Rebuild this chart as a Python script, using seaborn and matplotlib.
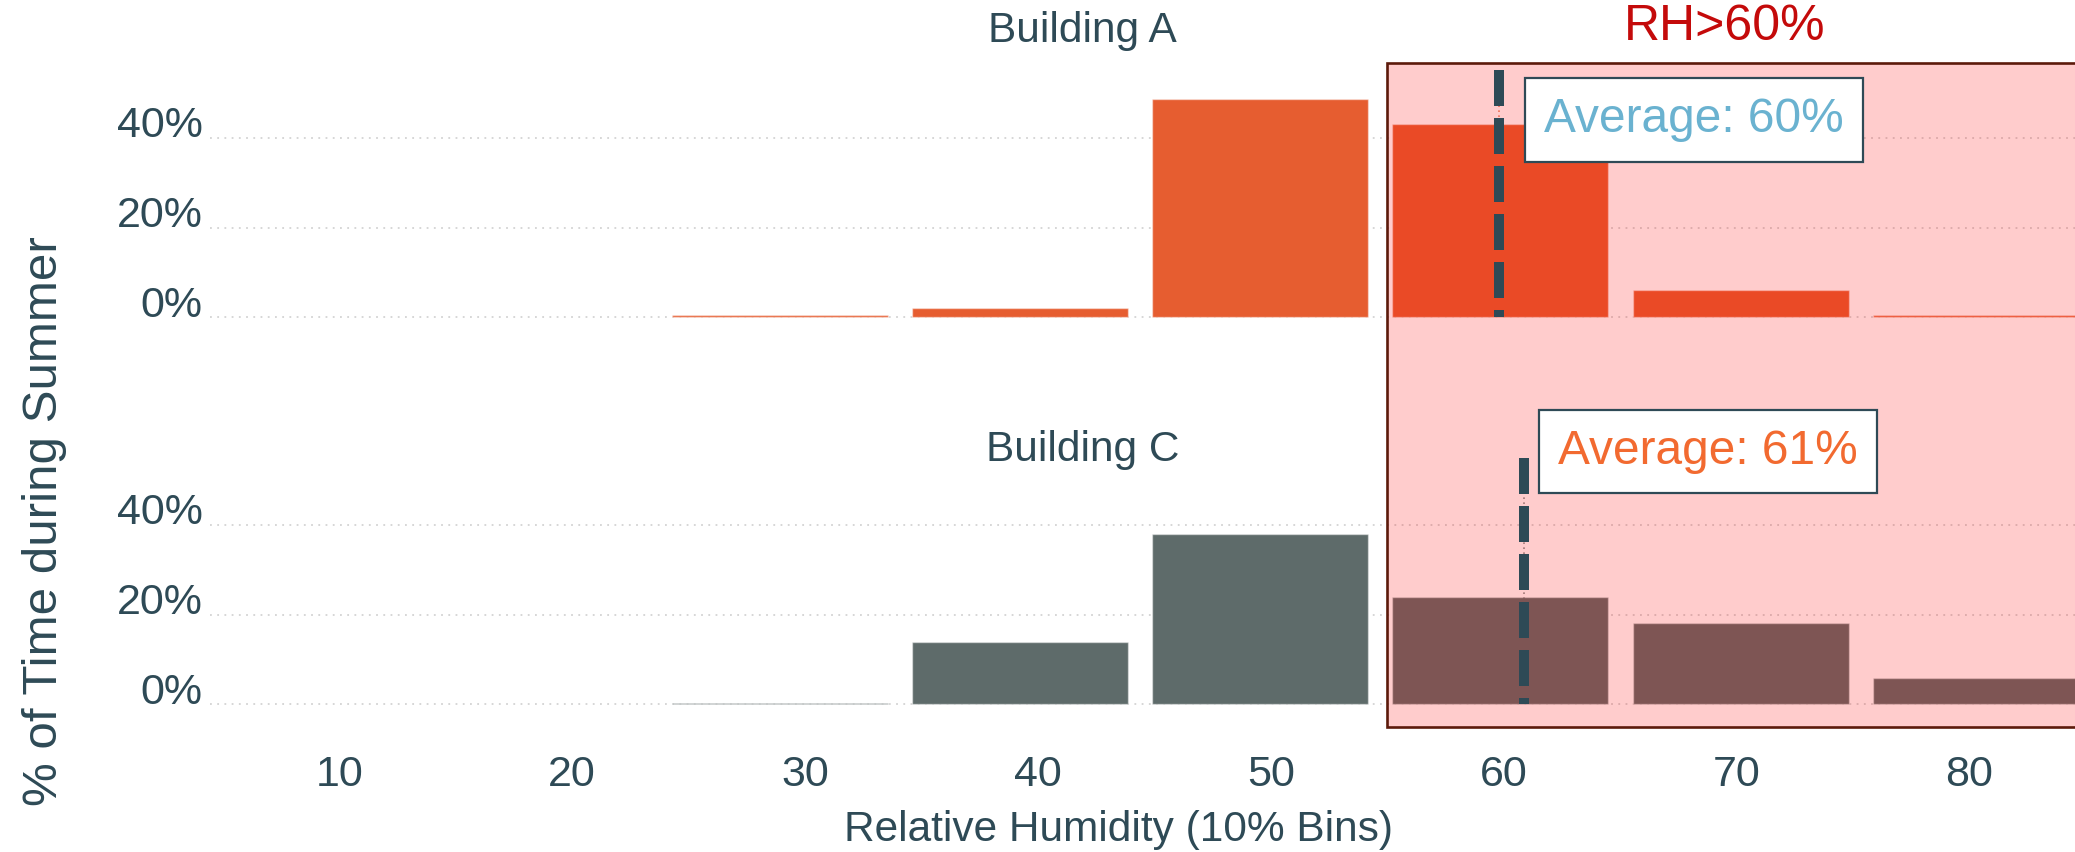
import numpy as np
import pandas as pd
import seaborn as sns
import matplotlib.pyplot as plt
from matplotlib.patches import Rectangle
from matplotlib.transforms import blended_transform_factory, ScaledTranslation
from matplotlib.ticker import FuncFormatter, FixedLocator

# ---- data -------------------------------------------------------------
buildings = ["Building A", "Building C"]
rh_bin_edges = [23.75, 34.07, 44.39, 54.71, 65.03, 75.35, 85.67]
rh_bin_centers = [28.91, 39.23, 49.55, 59.87, 70.19, 80.51]
pct_building_a = [0.45, 2.2, 48.7, 43.0, 6.0, 0.6]
pct_building_c = [0.4, 14.0, 37.9, 24.0, 18.1, 6.0]
avg_rh = [59.8, 60.9]
rh_zone_start = 55
x_ticks = [10, 20, 30, 40, 50, 60, 70, 80]
y_ticks = [0, 20, 40]

# ---- style ------------------------------------------------------------
sns.set_theme(style="white")
plt.rcParams["font.family"] = ["Liberation Sans", "DejaVu Sans"]

TEXT = "#2E4A56"
BAR_COLORS = ["#E65D30", "#5E6B6A"]
AVG_COLORS = ["#6AB2D0", "#F26A30"]
ZONE_TEXT = "#C40A0A"

W, H = 2075, 852
fig = plt.figure(figsize=(W / 100, H / 100), dpi=100)

x_left, x_right = 4.44, 84.55
y_low, y_high = -2.5, 56

ax_left = 210 / W
ax_width = 1.0 - ax_left
panel_boxes = [
    [ax_left, 1 - 328.6 / H, ax_width, (328.6 - 66) / H],
    [ax_left, 1 - 715.7 / H, ax_width, (715.7 - 453.1) / H],
]

# y tick labels sit just above their gridlines
lift = ScaledTranslation(0, 16 / 100, fig.dpi_scale_trans)

series = [pct_building_a, pct_building_c]
axes = []
for i, box in enumerate(panel_boxes):
    ax = fig.add_axes(box, zorder=0)
    sns.histplot(
        x=rh_bin_centers, weights=series[i], bins=rh_bin_edges, shrink=0.899,
        color=BAR_COLORS[i], alpha=1, edgecolor=(1, 1, 1, 0.45), linewidth=1.0,
        ax=ax,
    )
    # faint guide under the dashed average marker
    ax.plot([avg_rh[i], avg_rh[i]], [0, 55], color=BAR_COLORS[i], lw=1.2,
            ls=(0, (1, 2)), alpha=0.7, zorder=3)
    ax.set_xlim(x_left, x_right)
    ax.set_ylim(y_low, y_high)
    ax.set_xlabel("")
    ax.set_ylabel("")
    ax.yaxis.set_major_locator(FixedLocator(y_ticks))
    ax.yaxis.set_major_formatter(FuncFormatter(lambda v, p: f"{v:.0f}%"))
    ax.xaxis.set_major_locator(FixedLocator(x_ticks))
    ax.grid(False)
    ax.yaxis.grid(True, color="#D3D3D3", linestyle=(0, (1, 3)), linewidth=1.3)
    ax.set_axisbelow(True)
    for s in ax.spines.values():
        s.set_visible(False)
    ax.tick_params(axis="y", length=0, pad=5.4, labelsize=31, labelcolor=TEXT)
    ax.tick_params(axis="x", length=0, pad=28.5, labelsize=31, labelcolor=TEXT)
    if i == 0:
        ax.tick_params(axis="x", labelbottom=False)
    for lab in ax.get_yticklabels():
        lab.set_transform(lab.get_transform() + lift)
    ax.patch.set_alpha(0)
    axes.append(ax)

# red zone spanning both panels, tinting the bars underneath
zone_tf = blended_transform_factory(axes[1].transData, fig.transFigure)
zone = Rectangle((rh_zone_start, 1 - 727 / H), 40, (727 - 63) / H,
                 transform=zone_tf, facecolor=(1, 0, 0, 0.2),
                 edgecolor="#5C1A0B", linewidth=1.9, zorder=1)
fig.add_artist(zone)

# average markers and labels drawn above the zone
label_pos = [(68.2, 44.0), (68.8, 56.4)]
for i, box in enumerate(panel_boxes):
    ov = fig.add_axes(box, zorder=2, sharex=axes[i], sharey=axes[i])
    ov.set_axis_off()
    ov.plot([avg_rh[i], avg_rh[i]], [55, 0], color=TEXT, lw=7.2,
            dashes=(3.6, 1.2), dash_capstyle="butt")
    ov.text(label_pos[i][0], label_pos[i][1], f"Average: {avg_rh[i]:.0f}%",
            ha="center", va="center", fontsize=34.5, color=AVG_COLORS[i],
            bbox=dict(boxstyle="square,pad=0.4", facecolor="white",
                      edgecolor=TEXT, linewidth=1.6))
    ov.set_xlim(x_left, x_right)
    ov.set_ylim(y_low, y_high)

# facet titles and labels
fig.text(1082.5 / W, 1 - 31 / H, buildings[0], ha="center", va="center",
         fontsize=30.5, color=TEXT)
fig.text(1082.5 / W, 1 - 450 / H, buildings[1], ha="center", va="center",
         fontsize=30.5, color=TEXT)
fig.text(1725 / W, 1 - 26.5 / H, "RH>60%", ha="center", va="center",
         fontsize=36, color=ZONE_TEXT)
fig.text(1118 / W, 1 - 830 / H, "Relative Humidity (10% Bins)", ha="center",
         va="center", fontsize=30.5, color=TEXT)
fig.text(45 / W, 1 - 521 / H, "% of Time during Summer", ha="center",
         va="center", rotation=90, fontsize=35.5, color=TEXT)

fig.savefig("out.png", dpi=100, facecolor="white")
